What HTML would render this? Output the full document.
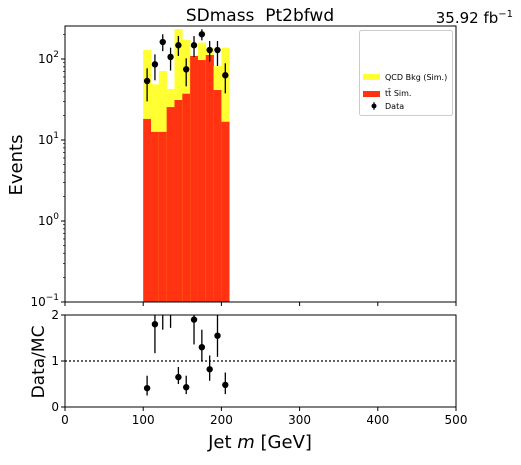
<!DOCTYPE html>
<html><head><meta charset="utf-8"><style>
body{margin:0;background:#fff;}
svg text{font-family:"DejaVu Sans","Liberation Sans",sans-serif;}
</style></head><body>
<svg id="c" width="521" height="460" xmlns="http://www.w3.org/2000/svg">
<g id="g"></g>
</svg>
<script>
const binEdgesLow = [100,110,120,130,140,150,160,170,180,190,200];
const binWidth = 10;
const ttbar = [18.2,12.6,12.6,25.5,31.2,37.3,109,97,112,41.4,16.8];
const total = [129,48.7,71,42.6,234,172,109,159,138,82,138];
const dataVals = [53.5,86,162,106,148,74.6,148,202,129,129,63];
const dataHi = [76.7,114,202,138,192,102,192,233,167,167,88.5];
const dataLo = [30,54.6,125,72,109,46,106,170,93,82,37.7];
const ratioVals = [0.41,1.8,2.28,2.5,0.65,0.43,1.9,1.3,0.82,1.55,0.48];
const ratioHi = [0.68,2.2,2.6,2.8,0.87,0.68,2.2,1.68,1.12,2.1,0.75];
const ratioLo = [0.25,1.17,1.68,1.72,0.5,0.28,1.36,1.0,0.57,1.09,0.28];
const xTicks = [0,100,200,300,400,500];
const yTicksExp = [-1,0,1,2];
const rTicks = [0,1,2];

const NS="http://www.w3.org/2000/svg";
const g=document.getElementById('g');
const X0=65,X1=456;
const xs=v=>X0+(v/500)*(X1-X0);
const MT=26,MB=302;
const ys=v=>MB-(Math.log10(v)+1)*81;
const RT=315,RB=407;
const ry=v=>RB-v*(RB-RT)/2;
function el(t,a,txt){const e=document.createElementNS(NS,t);for(const k in a)e.setAttribute(k,a[k]);if(txt!==undefined)e.textContent=txt;g.appendChild(e);return e;}
const clipM=el('clipPath',{id:'cm'});const cm=document.createElementNS(NS,'rect');clipM.appendChild(cm);
cm.setAttribute('x',X0);cm.setAttribute('y',MT);cm.setAttribute('width',X1-X0);cm.setAttribute('height',MB-MT);
const clipR=el('clipPath',{id:'cr'});const cr=document.createElementNS(NS,'rect');clipR.appendChild(cr);
cr.setAttribute('x',X0);cr.setAttribute('y',RT);cr.setAttribute('width',X1-X0);cr.setAttribute('height',RB-RT);

binEdgesLow.forEach((b,i)=>{
  const x=xs(b),w=xs(b+binWidth)-x;
  const y1=el('rect',{x:x,y:ys(total[i]),width:w+0.3,height:MB-ys(total[i]),fill:'#ffff33','clip-path':'url(#cm)'});
  
  
  const r=el('rect',{x:x,y:ys(ttbar[i]),width:w+0.3,height:MB-ys(ttbar[i]),fill:'#ff3311','clip-path':'url(#cm)'});
  
  
});
dataVals.forEach((v,i)=>{
  const cx=xs(binEdgesLow[i]+binWidth/2);
  const l=el('line',{x1:cx,x2:cx,y1:ys(dataHi[i]),y2:ys(dataLo[i]),stroke:'#000','stroke-width':1.3,'clip-path':'url(#cm)'});
  
  
  const p=el('circle',{cx:cx,cy:ys(v),r:3.2,fill:'#000','clip-path':'url(#cm)'});
  
  
});
el('line',{x1:X0,x2:X1,y1:ry(1),y2:ry(1),stroke:'#000','stroke-dasharray':'2,2','stroke-width':1.2});
ratioVals.forEach((v,i)=>{
  const cx=xs(binEdgesLow[i]+binWidth/2);
  const l=el('line',{x1:cx,x2:cx,y1:ry(ratioHi[i]),y2:ry(ratioLo[i]),stroke:'#000','stroke-width':1.3,'clip-path':'url(#cr)'});
  
  
  const p=el('circle',{cx:cx,cy:ry(v),r:3.2,fill:'#000','clip-path':'url(#cr)'});
  
  
});
el('rect',{x:X0,y:MT,width:X1-X0,height:MB-MT,fill:'none',stroke:'#000','stroke-width':1});
el('rect',{x:X0,y:RT,width:X1-X0,height:RB-RT,fill:'none',stroke:'#000','stroke-width':1});
xTicks.forEach(t=>{
  const x=xs(t);
  el('line',{x1:x,x2:x,y1:MB,y2:MB+4,stroke:'#000'});
  el('line',{x1:x,x2:x,y1:RB,y2:RB+4,stroke:'#000'});
  const tl=el('text',{x:x,y:RB+17,'font-size':12,'text-anchor':'middle'},String(t));
  
  
});
yTicksExp.forEach(e=>{
  const y=ys(Math.pow(10,e));
  el('line',{x1:X0-4,x2:X0,y1:y,y2:y,stroke:'#000'});
  const t=el('text',{x:X0-6,y:y+4,'font-size':12,'text-anchor':'end'});
  t.innerHTML='10<tspan dy="-6" font-size="9">'+(e<0?'−1':e)+'</tspan>';
  
  
  for(let k=2;k<10&&e<2;k++){const yy=ys(k*Math.pow(10,e));el('line',{x1:X0-2,x2:X0,y1:yy,y2:yy,stroke:'#000','stroke-width':0.7});}
});
{const yy=ys(200);el('line',{x1:X0-2,x2:X0,y1:yy,y2:yy,stroke:'#000','stroke-width':0.7});}
rTicks.forEach(t=>{
  const y=ry(t);
  el('line',{x1:X0-4,x2:X0,y1:y,y2:y,stroke:'#000'});
  const tl=el('text',{x:X0-6,y:y+4,'font-size':12,'text-anchor':'end'},String(t));
  
  
});
</script>
<svg width="521" height="460" style="position:absolute;left:0;top:0" xmlns="http://www.w3.org/2000/svg">
<g font-family="DejaVu Sans, Liberation Sans, sans-serif">
<text x="260" y="21" font-size="17" text-anchor="middle" xml:space="preserve" style="white-space:pre">SDmass  Pt2bfwd</text>
<text x="513" y="23" font-size="15" text-anchor="end">35.92 fb<tspan dy="-6" font-size="10">−1</tspan></text>
<text transform="translate(22,165) rotate(-90)" font-size="18" text-anchor="middle">Events</text>
<text transform="translate(44,362) rotate(-90)" font-size="17" text-anchor="middle">Data/MC</text>
<text x="260" y="448" font-size="18" text-anchor="middle">Jet <tspan font-style="italic">m</tspan> [GeV]</text>
<g>
<rect x="359.5" y="30.5" width="93" height="85" rx="2" fill="#fff" stroke="#ccc"/>
<rect x="363" y="74" width="17" height="6" fill="#ffff33"/>
<text x="385" y="80" font-size="8">QCD Bkg (Sim.)</text>
<rect x="363" y="91" width="17" height="6" fill="#ff3311"/>
<text x="385" y="96" font-size="8">tt̄ Sim.</text>
<line x1="374" x2="374" y1="102" y2="110" stroke="#000"/>
<circle cx="374" cy="106" r="2.5" fill="#000"/>
<text x="385" y="109" font-size="8">Data</text>
</g>
</g>
</svg>
</body></html>
